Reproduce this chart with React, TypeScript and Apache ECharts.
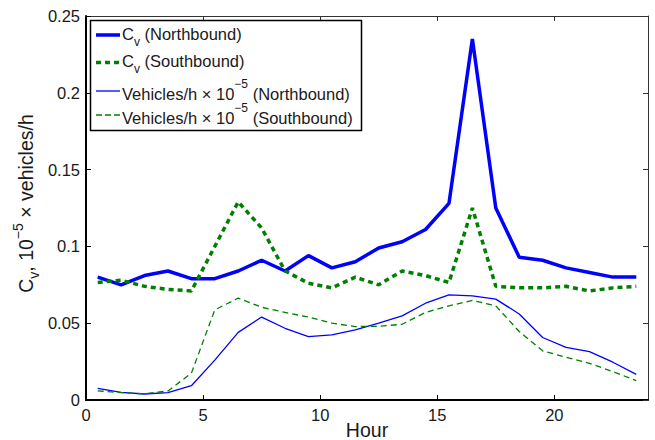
import React, { useEffect, useRef } from 'react';
import * as echarts from 'echarts';

const hours = [0.5, 1.5, 2.5, 3.5, 4.5, 5.5, 6.5, 7.5, 8.5, 9.5, 10.5, 11.5, 12.5, 13.5, 14.5, 15.5, 16.5, 17.5, 18.5, 19.5, 20.5, 21.5, 22.5, 23.5];
const cvNorth = [0.080, 0.075, 0.081, 0.084, 0.079, 0.079, 0.084, 0.091, 0.084, 0.094, 0.086, 0.090, 0.099, 0.103, 0.111, 0.128, 0.235, 0.125, 0.093, 0.091, 0.086, 0.083, 0.080, 0.080];
const cvSouth = [0.0765, 0.078, 0.074, 0.072, 0.071, 0.100, 0.129, 0.112, 0.084, 0.076, 0.073, 0.080, 0.075, 0.084, 0.081, 0.0765, 0.125, 0.074, 0.073, 0.073, 0.074, 0.071, 0.073, 0.074];
const vehNorth = [0.0076, 0.005, 0.0039, 0.0048, 0.0093, 0.026, 0.044, 0.054, 0.0467, 0.0413, 0.0424, 0.0457, 0.050, 0.0548, 0.063, 0.0685, 0.0678, 0.0657, 0.056, 0.0407, 0.0343, 0.0315, 0.0246, 0.0167];
const vehSouth = [0.006, 0.0048, 0.004, 0.0059, 0.0174, 0.0587, 0.0663, 0.0604, 0.057, 0.054, 0.050, 0.0478, 0.048, 0.0493, 0.057, 0.0613, 0.0648, 0.0613, 0.0446, 0.032, 0.0278, 0.0239, 0.0185, 0.0126];
const xTicks = [0, 5, 10, 15, 20];
const xInnerTicks = [5, 10, 15, 20];

const FONT = 'Liberation Sans';
const TXT = '#1a1a1a';
const BLUE = '#0000ff';
const GREEN = '#008000';

const pairs = (vals: number[]) => hours.map((h, i) => [h, vals[i]]);

const legendRich = {
  m: { fontSize: 16.5, fontFamily: FONT, fill: TXT, color: TXT, verticalAlign: 'middle' },
  sub: { fontSize: 12, fontFamily: FONT, fill: TXT, color: TXT, verticalAlign: 'middle', padding: [16, 0, 0, 0] },
  sup: { fontSize: 12, fontFamily: FONT, fill: TXT, color: TXT, verticalAlign: 'middle', padding: [0, 0, 20, 0] },
};

const legendText = (x: number, y: number, text: string) => ({
  type: 'text',
  x,
  y,
  z: 101,
  silent: true,
  style: {
    text,
    rich: legendRich,
    fontSize: 16.5,
    fontFamily: FONT,
    fill: TXT,
    align: 'left',
    textAlign: 'left',
    verticalAlign: 'middle',
    textVerticalAlign: 'middle',
  },
});

const legendLine = (y: number, color: string, width: number, dash?: number[]) => ({
  type: 'line',
  z: 101,
  silent: true,
  shape: { x1: 96, y1: y, x2: 120, y2: y },
  style: { stroke: color, lineWidth: width, lineDash: dash || null, lineCap: 'butt' },
});

export default function App() {
  const ref = useRef<HTMLDivElement>(null);
  useEffect(() => {
    document.body.style.margin = '0';
    const chart = echarts.init(ref.current!, null, { renderer: 'svg' });
    const axisLabelStyle = { fontSize: 16.5, fontFamily: FONT, color: TXT };
    chart.setOption({
      animation: false,
      backgroundColor: '#fff',
      grid: { left: 86, right: 7, top: 16, bottom: 40, containLabel: false, outerBoundsMode: 'none' },
      xAxis: [
        {
          type: 'value',
          min: 0,
          max: 24,
          interval: 5,
          name: 'Hour',
          nameLocation: 'middle',
          nameGap: 20,
          nameMoveOverlap: false,
          nameTextStyle: { fontSize: 19.5, fontFamily: FONT, color: TXT, verticalAlign: 'top' },
          axisLine: { onZero: false, lineStyle: { color: '#000', width: 2 } },
          axisTick: { inside: true, length: 5, lineStyle: { color: '#000', width: 1 }, customValues: xInnerTicks },
          axisLabel: { ...axisLabelStyle, margin: 6, customValues: xTicks },
          splitLine: { show: false },
        },
        {
          type: 'value',
          position: 'top',
          min: 0,
          max: 24,
          interval: 5,
          axisLine: { onZero: false, lineStyle: { color: '#333', width: 1 } },
          axisTick: { inside: true, length: 5, lineStyle: { color: '#333', width: 1 }, customValues: xInnerTicks },
          axisLabel: { show: false },
          splitLine: { show: false },
        },
      ],
      yAxis: [
        {
          type: 'value',
          min: 0,
          max: 0.25,
          interval: 0.05,
          axisLine: { show: true, onZero: false, lineStyle: { color: '#000', width: 2 } },
          axisTick: { show: true, inside: true, length: 5, lineStyle: { color: '#000', width: 1 } },
          axisLabel: { ...axisLabelStyle, margin: 6 },
          splitLine: { show: false },
        },
        {
          type: 'value',
          position: 'right',
          min: 0,
          max: 0.25,
          interval: 0.05,
          axisLine: { show: true, onZero: false, lineStyle: { color: '#333', width: 1 } },
          axisTick: { show: true, inside: true, length: 5, lineStyle: { color: '#333', width: 1 } },
          axisLabel: { show: false },
          splitLine: { show: false },
        },
      ],
      series: [
        {
          name: 'Cv (Northbound)',
          type: 'line',
          data: pairs(cvNorth),
          symbol: 'none',
          lineStyle: { color: BLUE, width: 3.5 },
          itemStyle: { color: BLUE },
          silent: true,
        },
        {
          name: 'Cv (Southbound)',
          type: 'line',
          data: pairs(cvSouth),
          symbol: 'none',
          lineStyle: { color: GREEN, width: 3.5, type: [5, 4], cap: 'butt' },
          itemStyle: { color: GREEN },
          silent: true,
        },
        {
          name: 'Vehicles/h (Northbound)',
          type: 'line',
          data: pairs(vehNorth),
          symbol: 'none',
          lineStyle: { color: BLUE, width: 1.3 },
          itemStyle: { color: BLUE },
          silent: true,
        },
        {
          name: 'Vehicles/h (Southbound)',
          type: 'line',
          data: pairs(vehSouth),
          symbol: 'none',
          lineStyle: { color: GREEN, width: 1.3, type: [6, 4] },
          itemStyle: { color: GREEN },
          silent: true,
        },
      ],
      graphic: [
        {
          type: 'rect',
          z: 100,
          silent: true,
          shape: { x: 90.5, y: 20.5, width: 271, height: 110 },
          style: { fill: '#fff', stroke: '#000', lineWidth: 1.5 },
        },
        legendLine(35, BLUE, 3.5),
        legendLine(62.5, GREEN, 3.5, [5, 4]),
        legendLine(91, BLUE, 1.3),
        legendLine(115, GREEN, 1.3, [6, 3]),
        legendText(122, 33.5, '{m|C}{sub|v}{m| (Northbound)}'),
        legendText(122, 61, '{m|C}{sub|v}{m| (Southbound)}'),
        legendText(122, 93.5, '{m|Vehicles/h × 10}{sup|−5}{m| (Northbound)}'),
        legendText(122, 118, '{m|Vehicles/h × 10}{sup|−5}{m| (Southbound)}'),
        {
          type: 'text',
          x: 26,
          y: 203.5,
          rotation: Math.PI / 2,
          silent: true,
          style: {
            text: '{m|C}{sub|v}{m|, 10}{sup|−5}{m| × vehicles/h}',
            rich: {
              m: { fontSize: 19.5, fontFamily: FONT, fill: TXT, color: TXT, verticalAlign: 'middle' },
              sub: { fontSize: 14, fontFamily: FONT, fill: TXT, color: TXT, verticalAlign: 'middle', padding: [16, 0, 0, 0] },
              sup: { fontSize: 14, fontFamily: FONT, fill: TXT, color: TXT, verticalAlign: 'middle', padding: [0, 0, 16, 0] },
            },
            fontSize: 19.5,
            fontFamily: FONT,
            fill: TXT,
            align: 'center',
            textAlign: 'center',
            verticalAlign: 'middle',
            textVerticalAlign: 'middle',
          },
        },
      ],
    });
    return () => chart.dispose();
  }, []);
  return <div ref={ref} style={{ width: 655, height: 440 }} />;
}
